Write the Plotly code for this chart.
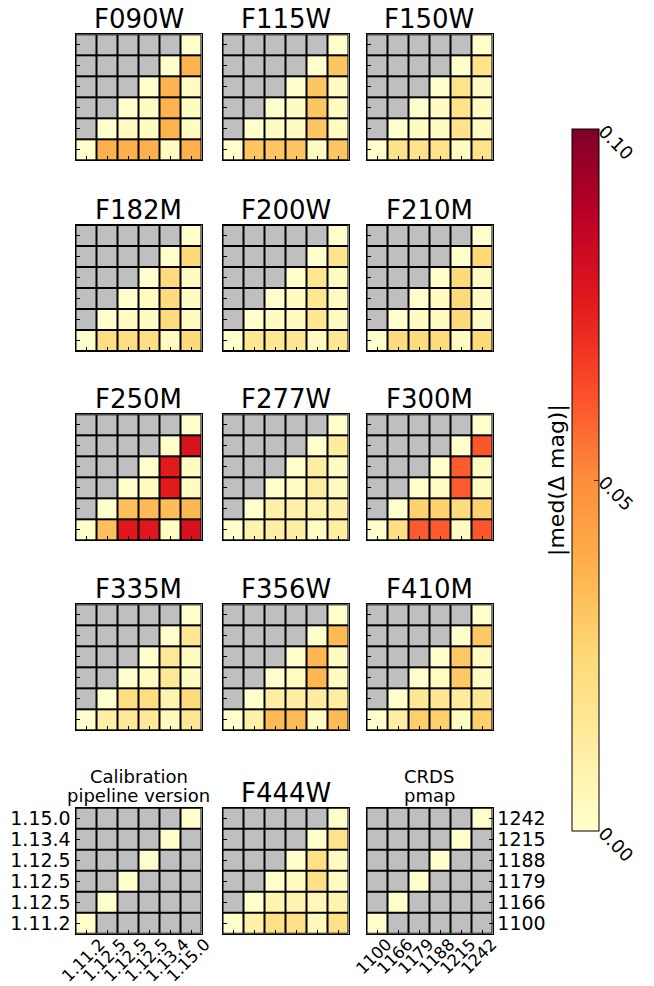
import plotly.graph_objects as go

versions = ["1.11.2", "1.12.5", "1.12.5", "1.12.5", "1.13.4", "1.15.0"]
pmaps = ["1100", "1166", "1179", "1188", "1215", "1242"]
N = None

# rows: bottom (1.11.2) to top (1.15.0); columns: left (1.11.2) to right (1.15.0)
F090W = [[0, .038, .038, .038, .003, .038], [N, 0, .003, .003, .037, .003], [N, N, 0, .003, .037, .003],
         [N, N, N, 0, .037, .003], [N, N, N, N, 0, .037], [N, N, N, N, N, 0]]
F115W = [[0, .031, .031, .031, .003, .031], [N, 0, .003, .003, .031, .003], [N, N, 0, .003, .031, .003],
         [N, N, N, 0, .031, .003], [N, N, N, N, 0, .031], [N, N, N, N, N, 0]]
F150W = [[0, .019, .019, .019, .003, .019], [N, 0, .003, .003, .019, .003], [N, N, 0, .003, .019, .003],
         [N, N, N, 0, .019, .003], [N, N, N, N, 0, .019], [N, N, N, N, N, 0]]
F182M = [[0, .022, .022, .022, .003, .024], [N, 0, .003, .003, .023, .003], [N, N, 0, .003, .023, .003],
         [N, N, N, 0, .023, .003], [N, N, N, N, 0, .024], [N, N, N, N, N, 0]]
F200W = [[0, .017, .017, .017, .003, .017], [N, 0, .003, .003, .017, .003], [N, N, 0, .003, .017, .003],
         [N, N, N, 0, .017, .003], [N, N, N, N, 0, .018], [N, N, N, N, N, 0]]
F210M = [[0, .023, .023, .023, .003, .024], [N, 0, .003, .003, .024, .003], [N, N, 0, .003, .024, .003],
         [N, N, N, 0, .024, .003], [N, N, N, N, 0, .025], [N, N, N, N, N, 0]]
F250M = [[0, .033, .076, .076, .003, .079], [N, 0, .033, .035, .034, .036], [N, N, 0, .003, .075, .003],
         [N, N, N, 0, .075, .003], [N, N, N, N, 0, .078], [N, N, N, N, N, 0]]
F277W = [[0, .009, .011, .011, .003, .011], [N, 0, .010, .010, .009, .010], [N, N, 0, .003, .012, .003],
         [N, N, N, 0, .012, .003], [N, N, N, N, 0, .013], [N, N, N, N, N, 0]]
F300M = [[0, .021, .060, .060, .003, .061], [N, 0, .027, .027, .023, .027], [N, N, 0, .003, .060, .003],
         [N, N, N, 0, .060, .003], [N, N, N, N, 0, .061], [N, N, N, N, N, 0]]
F335M = [[0, .011, .015, .015, .004, .016], [N, 0, .022, .022, .008, .023], [N, N, 0, .003, .015, .003],
         [N, N, N, 0, .015, .003], [N, N, N, N, 0, .016], [N, N, N, N, N, 0]]
F356W = [[0, .010, .035, .035, .003, .035], [N, 0, .012, .012, .013, .012], [N, N, 0, .003, .036, .003],
         [N, N, N, 0, .036, .003], [N, N, N, N, 0, .035], [N, N, N, N, N, 0]]
F410M = [[0, .011, .028, .028, .003, .028], [N, 0, .016, .016, .014, .016], [N, N, 0, .003, .030, .003],
         [N, N, N, 0, .030, .003], [N, N, N, N, 0, .030], [N, N, N, N, N, 0]]
F444W = [[0, .010, .020, .020, .004, .020], [N, 0, .008, .008, .006, .008], [N, N, 0, .003, .020, .003],
         [N, N, N, 0, .020, .003], [N, N, N, N, 0, .019], [N, N, N, N, N, 0]]
DIAG = [[0 if i == j else N for j in range(6)] for i in range(6)]

panel_names = ["F090W", "F115W", "F150W",
               "F182M", "F200W", "F210M",
               "F250M", "F277W", "F300M",
               "F335M", "F356W", "F410M",
               "CALIB", "F444W", "CRDS"]
panel_data = [F090W, F115W, F150W, F182M, F200W, F210M, F250M, F277W, F300M,
              F335M, F356W, F410M, DIAG, F444W, DIAG]

colorbar_ticks = [0.0, 0.05, 0.10]
colorbar_ticktext = ["0.00", "0.05", "0.10"]
zmin, zmax = 0.0, 0.10

YLORRD = ["#ffffcc", "#ffeda0", "#fed976", "#feb24c", "#fd8d3c", "#fc4e2a", "#e31a1c", "#bd0026", "#800026"]
colorscale = [[i / 8, c] for i, c in enumerate(YLORRD)]

W, H = 654, 986
FONT = "DejaVu Sans"
col_left = [75.5, 222.5, 366.5]
row_top = [34.3, 225.0, 414.3, 604.3, 807.7]
SIZE = 126.0

fig = go.Figure()
layout = dict(
    width=W, height=H, margin=dict(l=0, r=0, t=0, b=0, autoexpand=False),
    paper_bgcolor="white", plot_bgcolor="black",
    font=dict(family=FONT, color="black"),
    showlegend=False,
    coloraxis=dict(
        colorscale=colorscale, cmin=zmin, cmax=zmax,
        colorbar=dict(
            x=572 / W, xanchor="left", y=1 - 480 / H, yanchor="middle",
            len=702, lenmode="pixels", thickness=27, thicknessmode="pixels",
            outlinewidth=1, outlinecolor="black",
            tickvals=colorbar_ticks, ticktext=colorbar_ticktext,
            tickangle=45, ticks="inside", ticklen=5, tickcolor="#333",
            tickfont=dict(size=18, family=FONT), xpad=0, ypad=0,
        ),
    ),
)
annotations = []

for k, (name, data) in enumerate(zip(panel_names, panel_data)):
    r, c = divmod(k, 3)
    idx = k + 1
    xa = "x" if idx == 1 else f"x{idx}"
    ya = "y" if idx == 1 else f"y{idx}"
    gray = [[1 if v is None else None for v in row] for row in data]
    fig.add_trace(go.Heatmap(z=gray, x=list(range(6)), y=list(range(6)), xaxis=xa, yaxis=ya,
                             colorscale=[[0, "#bfbfbf"], [1, "#bfbfbf"]], showscale=False,
                             xgap=2, ygap=2, hoverinfo="skip"))
    fig.add_trace(go.Heatmap(z=data, x=list(range(6)), y=list(range(6)), xaxis=xa, yaxis=ya,
                             coloraxis="coloraxis", xgap=2, ygap=2))
    x0 = col_left[c] / W
    x1 = (col_left[c] + SIZE) / W
    y1 = 1 - row_top[r] / H
    y0 = 1 - (row_top[r] + SIZE) / H
    axcommon = dict(range=[-0.5, 5.5], showgrid=False, zeroline=False, showline=True, mirror=True,
                    linecolor="black", linewidth=1, ticks="inside", ticklen=4, tickcolor="black",
                    tickwidth=1, tickvals=list(range(6)), fixedrange=True, automargin=False)
    xkw = dict(axcommon, domain=[x0, x1], anchor=ya, showticklabels=False)
    ykw = dict(axcommon, domain=[y0, y1], anchor=xa, showticklabels=False)
    xlabels = None
    if name == "CALIB":
        ykw.update(showticklabels=True, ticktext=versions, tickfont=dict(size=19))
        xlabels = versions
    elif name == "CRDS":
        ykw.update(showticklabels=True, ticktext=pmaps, tickfont=dict(size=19), side="right")
        xlabels = pmaps
    layout["xaxis" if idx == 1 else f"xaxis{idx}"] = xkw
    layout["yaxis" if idx == 1 else f"yaxis{idx}"] = ykw

    if xlabels is not None:
        for j, lab in enumerate(xlabels):
            annotations.append(dict(text=lab, x=j, xref=xa, y=y0, yref="paper",
                                    xanchor="center", yanchor="top", textangle=-45,
                                    xshift=-3, yshift=0, showarrow=False,
                                    font=dict(size=16.5), borderpad=0))

    xc = (x0 + x1) / 2
    if name == "CALIB" or name == "CRDS":
        l1, l2 = ("Calibration", "pipeline version") if name == "CALIB" else ("CRDS", "pmap")
        annotations.append(dict(text=l2, x=xc, y=y1, xref="paper", yref="paper", xanchor="center",
                                yanchor="bottom", yshift=0, showarrow=False, font=dict(size=18)))
        annotations.append(dict(text=l1, x=xc, y=y1, xref="paper", yref="paper", xanchor="center",
                                yanchor="bottom", yshift=19, showarrow=False, font=dict(size=18)))
    else:
        annotations.append(dict(text=name, x=xc, y=y1, xref="paper", yref="paper", xanchor="center",
                                yanchor="bottom", yshift=-2, showarrow=False, font=dict(size=26)))

annotations.append(dict(text="|med(\u0394 mag)|", x=557 / W, y=1 - 480 / H, xref="paper", yref="paper",
                        xanchor="center", yanchor="middle", textangle=-90, showarrow=False,
                        font=dict(size=22)))
layout["annotations"] = annotations
fig.update_layout(**layout)
fig.write_html("out.html")
